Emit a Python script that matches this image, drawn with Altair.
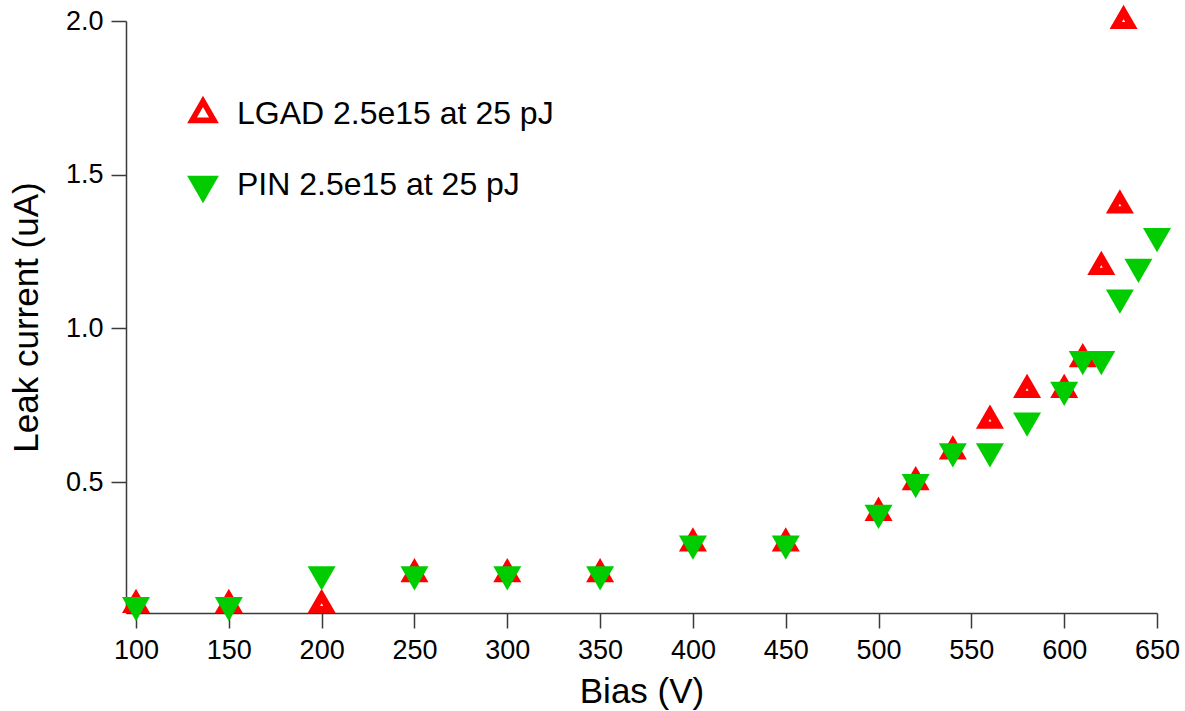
import altair as alt
import pandas as pd

# Leakage current vs. bias for the two irradiated sensors
bias_lgad = [100, 150, 200, 250, 300, 350, 400, 450, 500, 520, 540, 560, 580, 600, 610, 620, 630, 632]
leak_lgad = [0.1, 0.1, 0.1, 0.2, 0.2, 0.2, 0.3, 0.3, 0.4, 0.5, 0.6, 0.7, 0.8, 0.8, 0.9, 1.2, 1.4, 2.0]

bias_pin = [100, 150, 200, 250, 300, 350, 400, 450, 500, 520, 540, 560, 580, 600, 610, 620, 630, 640, 650]
leak_pin = [0.1, 0.1, 0.2, 0.2, 0.2, 0.2, 0.3, 0.3, 0.4, 0.5, 0.6, 0.6, 0.7, 0.8, 0.9, 0.9, 1.1, 1.2, 1.3]

series_names = ["LGAD 2.5e15 at 25 pJ", "PIN 2.5e15 at 25 pJ"]
x_ticks = list(range(100, 651, 50))
y_ticks = [0.5, 1.0, 1.5, 2.0]

df = pd.concat([
    pd.DataFrame({"bias": bias_lgad, "leak": leak_lgad, "series": series_names[0]}),
    pd.DataFrame({"bias": bias_pin, "leak": leak_pin, "series": series_names[1]}),
])

# triangles centred on their centroid
TRI_UP = "M0,-1.1547L1,0.5774L-1,0.5774Z"
TRI_DOWN = "M0,1.1547L1,-0.5774L-1,-0.5774Z"

FONT = "Liberation Sans"
AXIS_COLOR = "#3a3a3a"

x_enc = alt.X(
    "bias:Q",
    scale=alt.Scale(domain=[94.6, 650], nice=False, zero=False),
    axis=alt.Axis(
        values=x_ticks, title="Bias (V)", grid=False, tickSize=15,
        labelFontSize=27, titleFontSize=35, titleFontWeight="normal",
        labelFlush=False, labelOverlap=False, labelPadding=9,
        titleBaseline="alphabetic", titleY=89,
        domainColor=AXIS_COLOR, tickColor=AXIS_COLOR, domainWidth=1.5, tickWidth=1.5,
        labelColor="black", titleColor="black",
    ),
)
y_enc = alt.Y(
    "leak:Q",
    scale=alt.Scale(domain=[0.074, 2.0], nice=False, zero=False),
    axis=alt.Axis(
        values=y_ticks, format=".1f", title="Leak current (uA)", grid=False, tickSize=15,
        labelFontSize=27, titleFontSize=35, titleFontWeight="normal",
        labelPadding=8, titleBaseline="alphabetic", titleX=-89, titleY=296,
        domainColor=AXIS_COLOR, tickColor=AXIS_COLOR, domainWidth=1.5, tickWidth=1.5,
        labelColor="black", titleColor="black",
    ),
)

legend = alt.Legend(
    title=None, orient="none", legendX=61, legendY=77, padding=0,
    labelFontSize=32, labelFont=FONT, labelColor="black", labelLimit=0,
    symbolSize=477, symbolStrokeWidth=5.7, labelOffset=18, rowPadding=35,
)

fill_enc = alt.Fill("series:N", scale=alt.Scale(domain=series_names, range=["white", "#00CC00"]), legend=legend)
stroke_enc = alt.Stroke("series:N", scale=alt.Scale(domain=series_names, range=["#FF0000", "#00CC00"]), legend=legend)
shape_enc = alt.Shape("series:N", scale=alt.Scale(domain=series_names, range=[TRI_UP, TRI_DOWN]), legend=legend)

base = alt.Chart(df).encode(x=x_enc, y=y_enc, fill=fill_enc, stroke=stroke_enc, shape=shape_enc)

lgad = base.transform_filter(alt.datum.series == series_names[0]).mark_point(
    size=242, strokeWidth=7.2, opacity=1
)
pin = base.transform_filter(alt.datum.series == series_names[1]).mark_point(
    size=784, strokeWidth=0, opacity=1
)

chart = (
    alt.layer(lgad, pin)
    .properties(
        width=1031, height=592,
        autosize=alt.AutoSizeParams(type="none"),
        padding={"left": 126, "top": 21, "right": 28, "bottom": 98},
        background="white",
    )
    .configure(font=FONT)
    .configure_view(stroke=None)
)

chart.save("out.html", embed_options={"renderer": "svg", "actions": False})
